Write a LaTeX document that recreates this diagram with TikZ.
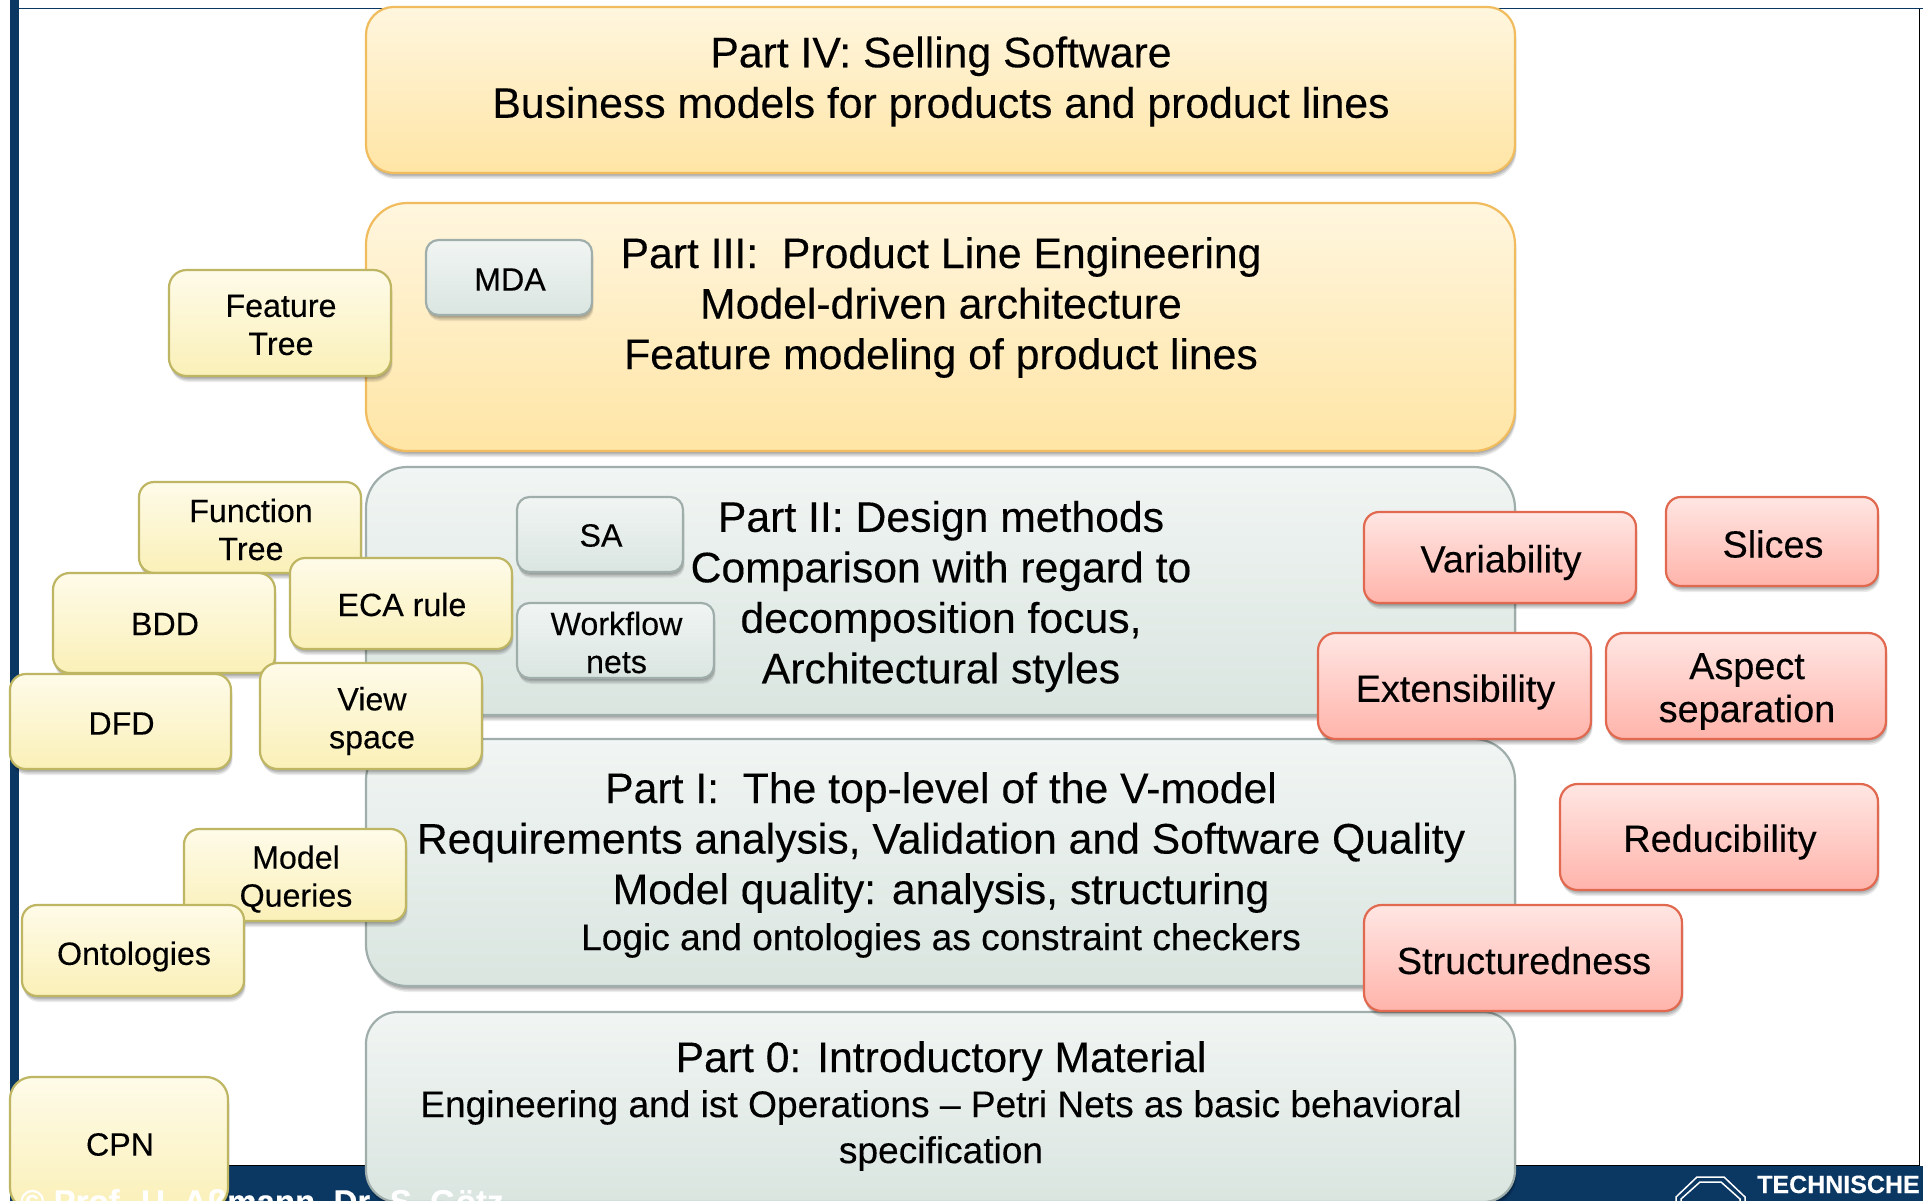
\documentclass[tikz,border=0pt]{standalone}
\usepackage{fontspec}
\setmainfont{Liberation Sans}[FakeBold=0.25]
\usetikzlibrary{shadows}
\definecolor{navy}{HTML}{0B3763}
\definecolor{yt}{HTML}{FEFBE9}\definecolor{yb}{HTML}{FAF0B8}\definecolor{yl}{HTML}{BFB663}
\definecolor{ot}{HTML}{FFF6DF}\definecolor{ob}{HTML}{FFE5A5}\definecolor{ol}{HTML}{F0BC5E}
\definecolor{gt}{HTML}{F1F5F3}\definecolor{gb}{HTML}{DAE5E0}\definecolor{gl}{HTML}{A0AEAB}
\definecolor{rt}{HTML}{FFE6E3}\definecolor{rb}{HTML}{FFB4AB}\definecolor{rl}{HTML}{E0694F}
\tikzset{
  softshadow/.style={
    drop shadow={shadow xshift=.4pt,shadow yshift=-1.5pt,opacity=.11,fill=black},
    drop shadow={shadow xshift=.8pt,shadow yshift=-3pt,opacity=.11,fill=black},
    drop shadow={shadow xshift=1.2pt,shadow yshift=-4.5pt,opacity=.11,fill=black},
    drop shadow={shadow xshift=1.6pt,shadow yshift=-6pt,opacity=.08,fill=black}},
  base/.style={rectangle,inner sep=0pt,outer sep=0pt,line width=2.2pt,softshadow},
  orangepart/.style={base,top color=ot,bottom color=ob,draw=ol},
  graypart/.style={base,top color=gt,bottom color=gb,draw=gl},
  yellownote/.style={base,top color=yt,bottom color=yb,draw=yl},
  graynote/.style={base,top color=gt,bottom color=gb,draw=gl},
  rednote/.style={base,top color=rt,bottom color=rb,draw=rl},
  notetext/.style={align=center,inner sep=0pt,text=black,xshift=1pt},
  yellownote text/.style={notetext,font=\fontsize{32.2}{38}\selectfont},
  graynote text/.style={notetext,font=\fontsize{32.2}{38}\selectfont},
  rednote text/.style={notetext,font=\fontsize{37.8}{43}\selectfont},
  parttext/.style={align=center,inner sep=0pt,font=\fontsize{42.7}{50.5}\selectfont},
  subtext/.style={align=center,inner sep=0pt,font=\fontsize{37.1}{46}\selectfont},
  foottext/.style={text=white,inner sep=0pt,anchor=base west}
}
% style, name, x0, y0, x1, y1, text, text shift down
\newcommand{\boxn}[8]{%
  \pgfmathsetmacro{\bw}{#5-#3}\pgfmathsetmacro{\bh}{#6-#4}%
  \pgfmathsetmacro{\bx}{(#3+#5)/2}\pgfmathsetmacro{\by}{(#4+#6)/2}%
  \pgfmathsetmacro{\br}{min(\bw,\bh)/6}%
  \pgfmathsetmacro{\bty}{\by+#8}%
  \node[#1,rounded corners=\br pt,minimum width=\bw pt,minimum height=\bh pt] (#2) at (\bx,\by) {};%
  \node[#1 text] (#2t) at (\bx,\bty) {#7};}
\newcommand{\partbox}[6]{%
  \pgfmathsetmacro{\bw}{#5-#3}\pgfmathsetmacro{\bh}{#6-#4}%
  \pgfmathsetmacro{\bx}{(#3+#5)/2}\pgfmathsetmacro{\by}{(#4+#6)/2}%
  \pgfmathsetmacro{\br}{min(\bw,\bh)/6}%
  \node[#1,rounded corners=\br pt,minimum width=\bw pt,minimum height=\bh pt] (#2) at (\bx,\by) {};}
\begin{document}
\begin{tikzpicture}[x=1pt,y=-1pt]
\useasboundingbox (0,0) rectangle (1923,1201);
\clip (0,0) rectangle (1923,1201);
\fill[white] (0,0) rectangle (1923,1201);
% frame
\fill[navy] (10,0) rectangle (19,1201);
\fill[navy] (10,1166) rectangle (1923,1201);
\draw[black,line width=1.5pt] (19,1165.5) -- (1919.5,1165.5) -- (1919.5,9);
\draw[navy,line width=1.2pt] (19,8.7) -- (1923,8.7);
% parts
\partbox{orangepart}{p4}{366}{7}{1515}{173}
\partbox{orangepart}{p3}{366}{203}{1515}{451}
\partbox{graypart}{p2}{366}{467}{1515}{715}
\partbox{graypart}{p1}{366}{739}{1515}{986}
\partbox{graypart}{p0}{366}{1012}{1515}{1202}
\node[parttext] (t4) at (941,81.5) {Part IV: Selling Software\\Business models for products and product lines};
\node[parttext] (t3) at (941,307.5) {Part III:\ \ Product Line Engineering\\Model-driven architecture\\Feature modeling of product lines};
\node[parttext] (t2) at (941,596.5) {Part II: Design methods\\Comparison with regard to\\decomposition focus,\\Architectural styles};
\node[parttext] (t1) at (941,842.5) {Part I:\ \ The top-level of the V-model\\Requirements analysis, Validation and Software Quality\\Model quality: analysis, structuring};
\node[subtext] (t1b) at (941,940.5) {Logic and ontologies as constraint checkers};
\node[parttext] (t0) at (941,1061) {Part 0: Introductory Material};
\node[subtext] (t0b) at (941,1130.5) {Engineering and ist Operations – Petri Nets as basic behavioral\\specification};
% gray notes
\boxn{graynote}{mda}{426}{240}{592}{315}{MDA}{2}
\boxn{graynote}{sa}{517}{497}{683}{572}{SA}{1}
\boxn{graynote}{wf}{517}{603}{714}{678}{Workflow\\nets}{2}
% yellow notes
\boxn{yellownote}{ft}{169}{270}{391}{376}{Feature\\Tree}{2}
\boxn{yellownote}{fn}{139}{482}{361}{573}{Function\\Tree}{2}
\boxn{yellownote}{bdd}{53}{573}{275}{673}{BDD}{1}
\boxn{yellownote}{eca}{290}{558}{512}{649}{ECA rule}{1}
\boxn{yellownote}{dfd}{10}{674}{231}{769}{DFD}{2}
\boxn{yellownote}{view}{260}{663}{482}{769}{View\\space}{5}
\boxn{yellownote}{mq}{184}{829}{406}{921}{Model\\Queries}{4}
\boxn{yellownote}{ont}{22}{905}{244}{996}{Ontologies}{6}
\boxn{yellownote}{cpn}{10}{1077}{228}{1210}{CPN}{1}
% red notes
\boxn{rednote}{var}{1364}{512}{1636}{603}{Variability}{5}
\boxn{rednote}{sli}{1666}{497}{1878}{586}{Slices}{2.5}
\boxn{rednote}{ext}{1318}{633}{1591}{739}{Extensibility}{6}
\boxn{rednote}{asp}{1606}{633}{1886}{739}{Aspect\\separation}{5.5}
\boxn{rednote}{red}{1560}{784}{1878}{890}{Reducibility}{5}
\boxn{rednote}{str}{1364}{905}{1682}{1011}{Structuredness}{2.5}
% footer
\node[foottext,font=\bfseries\fontsize{33}{33}\selectfont] (copy) at (20,1213) {© Prof. U. Aßmann, Dr. S. Götz};
\node[foottext,font=\bfseries\fontsize{25}{25}\selectfont] (tu) at (1757,1193) {TECHNISCHE};
\draw[white,line width=1.5pt] (1676,1210) -- (1676,1197) -- (1697,1177) -- (1724,1177) -- (1745,1197) -- (1745,1210);
\draw[white,line width=1.5pt] (1681,1210) -- (1681,1199) -- (1700,1182) -- (1721,1182) -- (1740,1199) -- (1740,1210);
\end{tikzpicture}
\end{document}
